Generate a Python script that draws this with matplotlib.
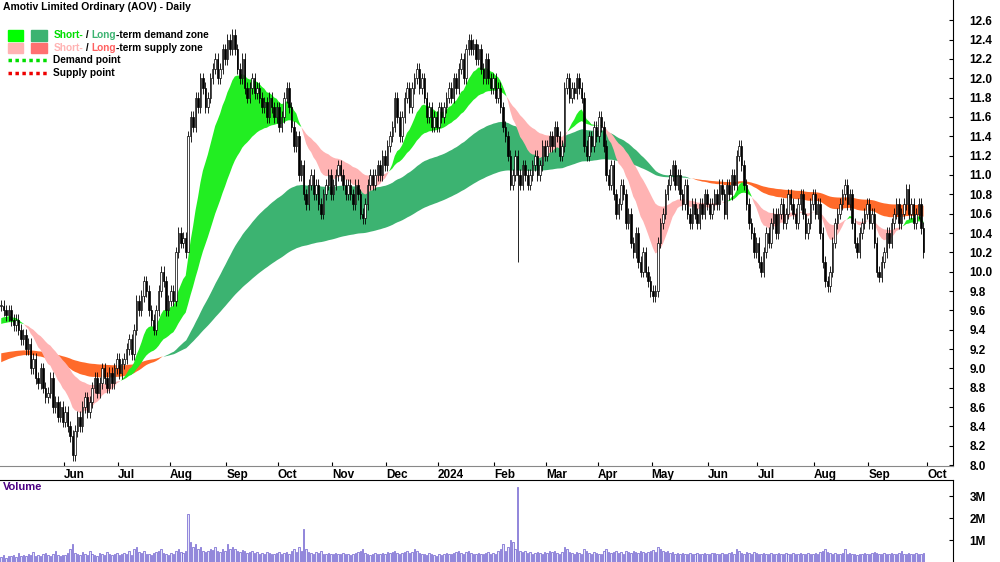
import numpy as np
import pandas as pd
import matplotlib
matplotlib.use("Agg")
import matplotlib.pyplot as plt
from matplotlib.patches import Rectangle
from matplotlib.lines import Line2D

# daily closes, one list per month (Apr 2023 .. Sep 2024)
closes_by_month = [
    [9.65, 9.6, 9.55, 9.6, 9.5],
    [9.45, 9.5, 9.4, 9.3, 9.35, 9.2, 9.25, 9.0, 9.1, 8.9, 8.85, 9.0, 8.8, 8.7, 8.75, 8.9, 8.6, 8.65, 8.5, 8.6, 8.45, 8.55, 8.4],
    [8.3, 8.1, 8.35, 8.5, 8.4, 8.6, 8.7, 8.55, 8.65, 8.8, 8.9, 8.75, 8.85, 9.0, 8.9, 8.8, 8.95, 8.85, 9.0, 9.1, 8.95, 9.05],
    [9.1, 9.2, 9.3, 9.15, 9.4, 9.7, 9.6, 9.75, 9.9, 9.8, 9.6, 9.5, 9.4, 9.6, 9.8, 10.0, 9.9, 9.6, 9.7, 9.8, 9.7],
    [10.2, 10.4, 10.3, 10.35, 10.2, 11.4, 11.6, 11.5, 11.8, 11.7, 12.0, 11.9, 11.7, 11.8, 12.0, 12.1, 12.2, 12.0, 12.1, 12.3, 12.2, 12.4, 12.3],
    [12.45, 12.3, 12.1, 12.0, 12.2, 11.9, 11.8, 11.9, 12.0, 11.85, 11.9, 11.8, 11.7, 11.75, 11.6, 11.8, 11.7, 11.6, 11.7, 11.5, 11.6],
    [11.8, 11.9, 11.7, 11.5, 11.3, 11.4, 11.0, 11.1, 10.8, 10.7, 10.9, 11.0, 10.8, 10.9, 10.7, 10.6, 10.8, 10.9, 11.0, 10.8, 10.9, 11.0],
    [11.1, 11.0, 10.9, 10.8, 10.9, 10.8, 10.7, 10.9, 10.8, 10.6, 10.55, 10.7, 10.9, 11.0, 10.9, 11.0, 11.1, 11.0, 11.2, 11.1, 11.3, 11.4],
    [11.5, 11.8, 11.6, 11.4, 11.6, 11.8, 11.9, 11.7, 11.9, 12.0, 12.1, 11.9, 12.0, 11.8, 11.6, 11.7, 11.5, 11.6, 11.5, 11.7, 11.6],
    [11.7, 11.8, 11.9, 11.8, 12.0, 11.9, 12.1, 12.2, 12.0, 12.3, 12.4, 12.3, 12.35, 12.2, 12.3, 12.1, 12.0, 12.2, 12.0, 11.9, 12.0, 11.8, 11.9],
    [11.7, 11.5, 11.4, 11.2, 10.9, 11.0, 11.2, 11.0, 10.9, 11.1, 11.0, 10.9, 11.0, 11.1, 11.2, 11.0, 11.1, 11.3, 11.2, 11.3, 11.4],
    [11.3, 11.5, 11.4, 11.2, 11.3, 11.9, 12.0, 11.8, 11.9, 11.85, 12.0, 11.9, 11.8, 11.3, 11.2, 11.4, 11.3, 11.5, 11.4, 11.6, 11.5],
    [11.3, 11.0, 10.9, 11.1, 10.8, 10.6, 10.7, 10.9, 10.8, 10.5, 10.6, 10.3, 10.2, 10.4, 10.1, 10.0, 10.2, 10.0, 9.9, 9.8, 9.75, 9.8],
    [10.3, 10.5, 10.6, 10.8, 10.9, 11.0, 11.1, 10.9, 11.0, 10.8, 10.7, 10.9, 10.6, 10.5, 10.7, 10.6, 10.5, 10.7, 10.6, 10.8, 10.7, 10.6, 10.7],
    [10.8, 10.7, 10.9, 10.8, 10.6, 10.9, 10.8, 11.0, 10.9, 11.2, 11.3, 11.1, 10.9, 10.7, 10.5, 10.4, 10.2, 10.3, 10.1, 10.0],
    [10.2, 10.4, 10.3, 10.5, 10.6, 10.4, 10.6, 10.7, 10.5, 10.6, 10.8, 10.7, 10.6, 10.5, 10.7, 10.8, 10.6, 10.4, 10.5, 10.7, 10.8, 10.6, 10.7],
    [10.4, 10.1, 9.9, 9.85, 10.0, 10.3, 10.5, 10.6, 10.7, 10.8, 10.9, 10.7, 10.8, 10.5, 10.3, 10.2, 10.4, 10.5, 10.6, 10.7, 10.5, 10.6],
    [10.3, 10.0, 9.95, 10.1, 10.2, 10.4, 10.3, 10.5, 10.6, 10.7, 10.5, 10.6, 10.7, 10.85, 10.6, 10.7, 10.5, 10.6, 10.7, 10.45, 10.2],
]

# averages carried in from before the first bar: (fast, slow)
st_seed = (9.5, 9.45)
lt_seed = (9.05, 9.15)

# unusually long lower wicks (bar index, low)
spike_lows = [(76, 10.6), (210, 10.1)]

# daily volume in thousands, one list per month
volume_by_month = [
    [250, 300, 200, 280, 260],
    [300, 250, 400, 280, 320, 260, 350, 300, 450, 280, 300, 260, 380, 420, 300, 280, 350, 500, 300, 280, 320, 300, 400],
    [600, 800, 400, 350, 300, 450, 380, 300, 500, 350, 300, 280, 400, 350, 300, 450, 380, 300, 350, 400, 300, 350],
    [400, 350, 500, 300, 600, 700, 450, 400, 500, 380, 350, 300, 400, 450, 500, 600, 400, 350, 300, 400, 350],
    [500, 600, 450, 400, 500, 2200, 900, 700, 800, 600, 700, 500, 450, 500, 600, 550, 700, 500, 450, 600, 500, 800, 600],
    [700, 600, 500, 450, 550, 500, 400, 450, 500, 400, 450, 380, 400, 350, 450, 400, 380, 350, 400, 450, 380],
    [400, 450, 380, 500, 600, 450, 700, 500, 1500, 600, 450, 400, 380, 450, 400, 500, 380, 350, 400, 380, 350, 400],
    [380, 350, 400, 350, 380, 300, 350, 400, 450, 500, 600, 400, 350, 300, 350, 400, 380, 350, 400, 350, 450, 400],
    [450, 500, 400, 380, 400, 450, 500, 400, 450, 600, 500, 400, 380, 350, 300, 400, 350, 300, 280, 350, 300],
    [350, 400, 380, 350, 400, 450, 500, 400, 380, 450, 500, 400, 380, 350, 400, 380, 350, 400, 450, 380, 400, 350, 500],
    [600, 800, 500, 700, 1000, 900, 600, 3400, 500, 450, 500, 400, 450, 380, 400, 450, 400, 380, 450, 400, 500],
    [450, 500, 400, 380, 450, 700, 600, 450, 400, 380, 450, 400, 380, 600, 500, 400, 380, 450, 400, 380, 350],
    [500, 600, 450, 400, 450, 500, 400, 450, 380, 500, 450, 400, 500, 450, 400, 500, 450, 400, 450, 500, 550, 450],
    [700, 600, 500, 450, 500, 400, 450, 380, 400, 350, 400, 380, 350, 400, 380, 350, 400, 380, 350, 400, 380, 350, 400],
    [400, 380, 350, 400, 380, 350, 400, 450, 380, 600, 500, 400, 380, 450, 400, 380, 450, 400, 380, 350],
    [400, 380, 350, 400, 380, 350, 400, 380, 350, 400, 380, 350, 400, 380, 350, 400, 380, 350, 400, 380, 350, 400, 380],
    [450, 500, 600, 450, 400, 380, 400, 350, 380, 400, 600, 350, 400, 380, 350, 300, 350, 380, 400, 350, 380, 400],
    [450, 400, 380, 350, 400, 380, 350, 400, 380, 350, 400, 500, 380, 350, 400, 380, 350, 400, 380, 350, 400],
]

month_labels = ["Jun", "Jul", "Aug", "Sep", "Oct", "Nov", "Dec", "2024", "Feb", "Mar",
                "Apr", "May", "Jun", "Jul", "Aug", "Sep", "Oct"]

closes = np.array([c for m in closes_by_month for c in m])
volume = np.array([v for m in volume_by_month for v in m]) * 1000
n = len(closes)
x = np.arange(n)

opens = np.r_[closes[0], closes[:-1]]
highs = np.maximum(opens, closes) + 0.06
lows = np.minimum(opens, closes) - 0.06
for i, lo in spike_lows:
    lows[i] = lo

# month start positions (first label is June)
month_lengths = [len(m) for m in closes_by_month]
month_starts = np.cumsum(month_lengths)[1:-1]
tick_pos = list(month_starts - 2.5) + [n + 0.5]


def ema(seed, span):
    s = pd.Series(np.r_[seed, closes])
    return s.ewm(span=span, adjust=False).mean().values[1:]


st_fast = ema(st_seed[0], 15)
st_slow = ema(st_seed[1], 40)
lt_fast = ema(lt_seed[0], 90)
lt_slow = ema(lt_seed[1], 180)

fig = plt.figure(figsize=(10, 5.62), dpi=100)
ax = fig.add_axes([0.0, 1 - 466 / 562, 0.953, 466 / 562])
axv = fig.add_axes([0.0, 0.0, 0.953, 82 / 562])

# long-term zone
ax.fill_between(x, lt_fast, lt_slow, where=lt_fast >= lt_slow, color="#3cb371",
                interpolate=True, lw=0, zorder=1)
ax.fill_between(x, lt_fast, lt_slow, where=lt_fast < lt_slow, color="#ff6a2a",
                interpolate=True, lw=0, zorder=1)
# short-term zone
ax.fill_between(x, st_fast, st_slow, where=st_fast >= st_slow, color="#22ee22",
                interpolate=True, lw=0, zorder=2)
ax.fill_between(x, st_fast, st_slow, where=st_fast < st_slow, color="#ffb3b3",
                interpolate=True, lw=0, zorder=2)

# candles
ax.vlines(x, lows, highs, color="black", lw=0.6, zorder=3)
up = closes >= opens
body_lo = np.minimum(opens, closes)
body_h = np.maximum(np.abs(closes - opens), 0.01)
ax.bar(x[up], body_h[up], bottom=body_lo[up], width=0.6, color="white",
       edgecolor="black", lw=0.5, zorder=4)
ax.bar(x[~up], body_h[~up], bottom=body_lo[~up], width=0.6, color="black",
       edgecolor="black", lw=0.5, zorder=4)

ax.set_xlim(-0.5, n + 11)
ax.set_ylim(7.99, 12.81)
ax.yaxis.tick_right()
ax.set_yticks(np.arange(8.0, 12.61, 0.2))
ax.set_yticklabels([f"{v:.1f}" for v in np.arange(8.0, 12.61, 0.2)], fontsize=8.5,
                   fontweight="bold", family="Liberation Sans")
ax.tick_params(axis="y", direction="in", length=3, pad=12)
ax.set_xticks(tick_pos)
ax.set_xticklabels(month_labels, fontsize=8.5, fontweight="bold", family="Liberation Sans",
                   ha="left")
ax.tick_params(axis="x", direction="in", length=3, pad=2)
for sp in ["top", "left"]:
    ax.spines[sp].set_visible(False)
ax.spines["bottom"].set_color("#888888")

ax.text(0.003, 0.995, "Amotiv Limited Ordinary (AOV) - Daily", transform=ax.transAxes,
        fontsize=7.5, fontweight="bold", family="Liberation Sans", va="top")

# legend
lx, ly = 0.008, 0.925
dy = 0.027
lt = ax.transAxes
ax.add_patch(Rectangle((lx, ly - 0.012), 0.016, 0.022, color="#00ff00", transform=lt, zorder=5))
ax.add_patch(Rectangle((lx + 0.025, ly - 0.012), 0.016, 0.022, color="#3cb371", transform=lt, zorder=5))
ax.add_patch(Rectangle((lx, ly - dy - 0.012), 0.016, 0.022, color="#ffb3b3", transform=lt, zorder=5))
ax.add_patch(Rectangle((lx + 0.025, ly - dy - 0.012), 0.016, 0.022, color="#ff7070", transform=lt, zorder=5))
ax.add_line(Line2D([lx, lx + 0.041], [ly - 2 * dy, ly - 2 * dy], color="#00dd00", ls=(0, (1, 1)),
                   lw=2.5, transform=lt, zorder=5))
ax.add_line(Line2D([lx, lx + 0.041], [ly - 3 * dy, ly - 3 * dy], color="#ee0000", ls=(0, (1, 1)),
                   lw=2.5, transform=lt, zorder=5))
tx = lx + 0.048
kw = dict(transform=lt, fontsize=7.3, fontweight="bold", family="Liberation Sans", va="center")
parts = [[("Short-", "#00dd00"), (" / ", "black"), ("Long", "#3cb371"), ("-term demand zone", "black")],
         [("Short-", "#ffb3b3"), (" / ", "black"), ("Long", "#ff6060"), ("-term supply zone", "black")],
         [("Demand point", "black")],
         [("Supply point", "black")]]
fig.canvas.draw()
for k, row in enumerate(parts):
    cx = tx
    for txt, col in row:
        t = ax.text(cx, ly - k * dy, txt, color=col, **kw)
        bb = t.get_window_extent(renderer=fig.canvas.get_renderer())
        cx += bb.width / ax.bbox.width

# volume
axv.bar(x, volume, width=0.6, color="#e6e6fa", edgecolor="#6a5acd", lw=0.5)
axv.set_xlim(ax.get_xlim())
axv.set_ylim(0, 3.73e6)
axv.yaxis.tick_right()
axv.set_yticks([1e6, 2e6, 3e6])
axv.set_yticklabels(["1M", "2M", "3M"], fontsize=8.5, fontweight="bold", family="Liberation Sans")
axv.tick_params(axis="y", direction="in", length=3, pad=12)
axv.set_xticks([])
for sp in ["left", "bottom"]:
    axv.spines[sp].set_visible(False)
axv.text(0.003, 0.97, "Volume", transform=axv.transAxes, fontsize=8, color="#4b0082",
         family="Liberation Sans", fontweight="bold", va="top")

fig.savefig("out.png", dpi=100)
